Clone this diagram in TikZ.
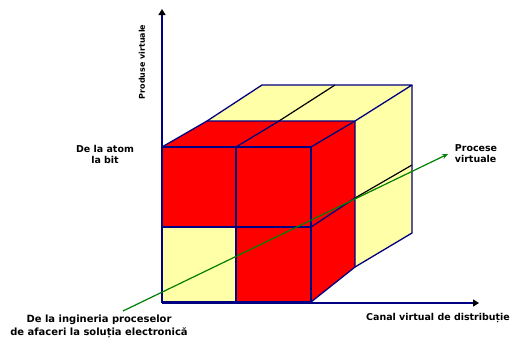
\documentclass[tikz,border=0pt]{standalone}
\usepackage{fontspec}
\setmainfont{DejaVu Sans}
\usetikzlibrary{arrows.meta}
\definecolor{navyc}{RGB}{0,0,128}
\definecolor{cubeyellow}{RGB}{255,255,168}
\definecolor{cubered}{RGB}{255,0,0}
\definecolor{greenc}{RGB}{0,128,0}
\tikzset{
  edge/.style={draw=navyc,line width=1.3bp,line join=round},
  blackedge/.style={draw=black,line width=1.2bp},
  axis/.style={draw=navyc,line width=1.3bp,-{Triangle[length=6bp,width=7bp,fill=black,color=black]}},
  lbl/.style={font=\bfseries\fontsize{9.5}{11}\selectfont,align=center,inner sep=0pt},
  greenline/.style={draw=greenc,line width=1.2bp,-{Stealth[length=6bp,width=5bp]}}
}
\begin{document}
\begin{tikzpicture}[x=1bp,y=-1bp]
\useasboundingbox (0,0) rectangle (513,339);
% coordinates
\coordinate (A) at (162,147); \coordinate (B) at (236,147); \coordinate (C) at (311,147);
\coordinate (D) at (162,227); \coordinate (E) at (236,227); \coordinate (F) at (311,227);
\coordinate (G) at (162,302); \coordinate (H) at (236,302); \coordinate (I) at (311,302);
\coordinate (P1) at (207,121); \coordinate (P2) at (279,121); \coordinate (P3) at (355,121);
\coordinate (Q1) at (262,85); \coordinate (Q2) at (335,85); \coordinate (Q3) at (412,85);
\coordinate (R1) at (355,198); \coordinate (R2) at (412,165);
\coordinate (S1) at (355,267); \coordinate (S2) at (412,233);
\coordinate (O) at (162,303); \coordinate (ytip) at (162,9); \coordinate (xtip) at (479,303);
\coordinate (gs) at (123,311); \coordinate (ge) at (448,154);
% fills
\fill[cubeyellow] (P1) -- (Q1) -- (Q3) -- (P3) -- cycle;
\fill[cubeyellow] (P3) -- (Q3) -- (S2) -- (S1) -- cycle;
\fill[cubered] (A) -- (C) -- (I) -- (G) -- cycle;
\fill[cubered] (A) -- (P1) -- (P3) -- (C) -- cycle;
\fill[cubered] (C) -- (P3) -- (S1) -- (I) -- cycle;
\fill[cubeyellow] (D) -- (E) -- (H) -- (G) -- cycle;
% black inner lines
\draw[blackedge] (P2) -- (Q2);
\draw[blackedge] (R1) -- (R2);
% navy edges
\draw[edge] (A) -- (C) -- (I) -- (G) -- cycle;
\draw[edge] (B) -- (H);
\draw[edge] (D) -- (F);
\draw[edge] (A) -- (P1) -- (P3) -- (C);
\draw[edge] (B) -- (P2);
\draw[edge] (P1) -- (Q1) -- (Q3) -- (P3);
\draw[edge] (P3) -- (S1) -- (I);
\draw[edge] (F) -- (R1);
\draw[edge] (Q3) -- (S2) -- (S1);
% axes
\draw[axis] (O) -- (ytip);
\draw[axis] (O) -- (xtip);
% green line
\draw[greenline] (gs) -- (ge);
% labels
\node[lbl,font=\bfseries\fontsize{8}{10}\selectfont,rotate=90] (ylab) at (142,62) {Produse virtuale};
\node[lbl] (atom) at (105,154) {De la atom\\la bit};
\node[lbl,align=left] (proc) at (476,154) {Procese\\virtuale};
\node[lbl,font=\bfseries\fontsize{10}{13}\selectfont] (ing) at (99,326) {De la ingineria proceselor\\de afaceri la soluția electronică};
\node[lbl] (canal) at (438,318) {Canal virtual de distribuție};
\end{tikzpicture}
\end{document}
